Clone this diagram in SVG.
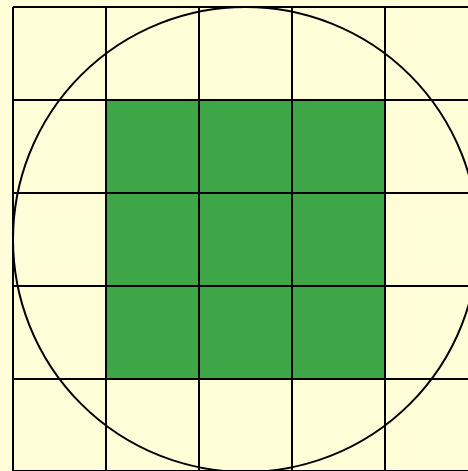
<svg xmlns="http://www.w3.org/2000/svg" width="468" height="471" viewBox="0 0 468 471">
<style>
.g{stroke:#000;stroke-width:2;fill:none}
</style>
<rect width="468" height="471" fill="#FFFDD8"/>
<g id="inside">
<rect x="106" y="100" width="279" height="279" fill="#3FA648"/>
</g>
<g id="grid" class="g">
<path d="M13 7V478M106 7V478M199 7V478M292 7V478M385 7V478M13 7H478M13 100H478M13 193H478M13 286H478M13 379H478M13 471H478"/>
</g>
<g id="circle">
<circle cx="245.5" cy="239.5" r="232.5" class="g"/>
</g>
</svg>
